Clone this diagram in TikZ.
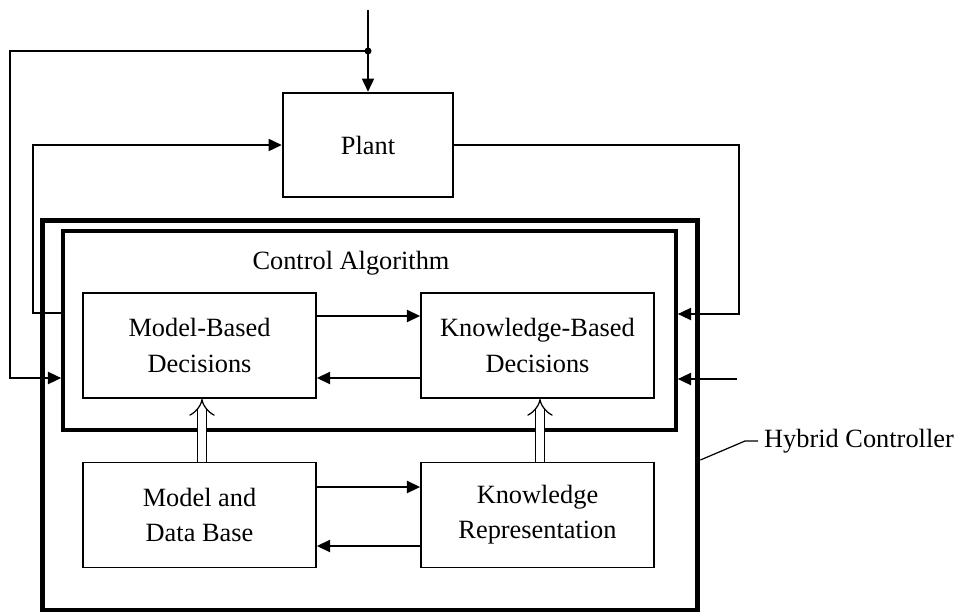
\documentclass[tikz,border=0pt]{standalone}
\usepackage{fontspec}
\setmainfont{Liberation Serif}
\usetikzlibrary{positioning,arrows.meta}

\begin{document}
\begin{tikzpicture}[x=0.02cm, y=-0.02cm, >={Triangle[length=7.5pt,width=7pt]},
    font=\fontsize{15}{20}\selectfont,
    blk/.style={draw, line width=1.1pt, align=center, inner sep=0pt,
                minimum width=4.66cm, minimum height=2.1cm},
    frame/.style={draw, inner sep=0pt},
    wire/.style={line width=0.7pt},
    dbl/.style={double, double distance=4.5pt, line width=0.7pt, -{Implies}}]
  \useasboundingbox (0,0) rectangle (956,615);
  % frames
  \node[frame, line width=2.8pt, minimum width=13.12cm, minimum height=7.8cm] (hyb) at (370,415) {};
  \node[frame, line width=2.2pt, minimum width=12.26cm, minimum height=3.98cm] (ctrl) at (369.5,330.5) {};
  \node (ctitle) at (351,263) {Control Algorithm};
  % blocks
  \node[frame, line width=1.5pt, minimum width=3.4cm, minimum height=2.08cm] (plant) at (368,145) {Plant};
  \node[blk] (mbd) at (199.5,345.5) {Model-Based\\Decisions};
  \node[blk] (kbd) at (537.5,345.5) {Knowledge-Based\\Decisions};
  \node[blk] (mdb) at (199.5,515) {Model and\\Data Base};
  \node[blk] (krep) at (537.5,515) {Knowledge\\Representation};
  \node[anchor=west] (hlab) at (758,441) {Hybrid Controller};

  % loops round the plant
  \coordinate (src) at (368,10);
  \coordinate (jn) at (368,51);
  \coordinate (rin) at (737,379);
  \draw[wire,->] (src) -- (plant);
  \fill (jn) circle[radius=2pt];
  \draw[wire,->] (jn) -- (10,51) |- (ctrl.west |- 0,378);
  \draw[wire,->] (ctrl.west |- 0,313) -| (33,145) -- (plant.west);
  \draw[wire,->] (plant.east) -| (739,314) -- (ctrl.east |- 0,314);
  \draw[wire,->] (rin) -- (ctrl.east |- rin);

  % inside the controller
  \draw[wire,->] (mbd.east |- 0,316) -- (kbd.west |- 0,316);
  \draw[wire,->] (kbd.west |- 0,378) -- (mbd.east |- 0,378);
  \draw[wire,->] (mdb.east |- 0,487) -- (krep.west |- 0,487);
  \draw[wire,->] (krep.west |- 0,546) -- (mdb.east |- 0,546);
  \draw[dbl] (mdb.north -| 202,0) -- (mbd.south -| 202,0);
  \draw[dbl] (krep.north -| 540,0) -- (kbd.south -| 540,0);

  \draw[wire] (hyb.east |- 0,460) -- (745,441) -- (hlab.west);
\end{tikzpicture}
\end{document}
